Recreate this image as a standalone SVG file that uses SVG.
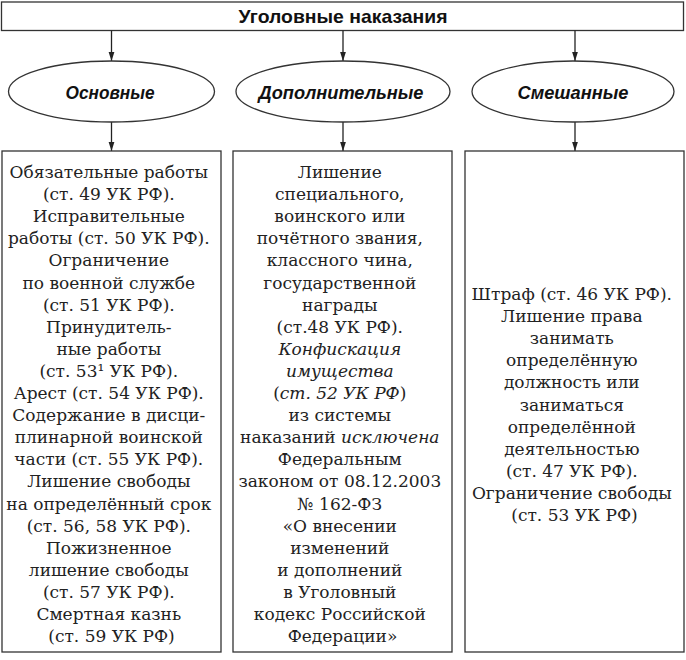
<svg xmlns="http://www.w3.org/2000/svg" width="686" height="660" viewBox="0 0 686 660">
<defs>
<marker id="arr" markerWidth="9" markerHeight="14" refX="14" refY="4.5" orient="auto" markerUnits="userSpaceOnUse" viewBox="0 0 14 9">
<path d="M0,0 L14,4.5 L0,9 Z" fill="#222"/>
</marker>
<style>
.box{fill:#fff;stroke:#333;stroke-width:1.3}
.line{stroke:#222;stroke-width:1.3;fill:none}
.title{font-family:"Liberation Sans","DejaVu Sans",sans-serif;font-weight:bold;font-size:19px;fill:#111;text-anchor:middle}
.cat{font-family:"Liberation Sans","DejaVu Sans",sans-serif;font-weight:bold;font-style:italic;font-size:19px;fill:#111;text-anchor:middle}
.body{font-family:"DejaVu Serif","Liberation Serif",serif;font-size:17px;fill:#222;text-anchor:middle}
.it{font-style:italic}
</style>
</defs>
<rect width="686" height="660" fill="#fff"/>
<g id="root">
<rect class="box" x="1.5" y="2" width="682" height="28.5"/>
<text class="title" x="343" y="23" textLength="209" lengthAdjust="spacingAndGlyphs">Уголовные наказания</text>
</g>
<g id="connectors">
<line class="line" x1="111.5" y1="30.5" x2="111.5" y2="61" marker-end="url(#arr)"/>
<line class="line" x1="343" y1="30.5" x2="343" y2="61" marker-end="url(#arr)"/>
<line class="line" x1="575" y1="30.5" x2="575" y2="61" marker-end="url(#arr)"/>
<line class="line" x1="111.5" y1="122" x2="111.5" y2="151" marker-end="url(#arr)"/>
<line class="line" x1="343" y1="122" x2="343" y2="151" marker-end="url(#arr)"/>
<line class="line" x1="575" y1="122" x2="575" y2="151" marker-end="url(#arr)"/>
</g>
<g id="cat-main">
<ellipse class="box" cx="111.5" cy="91.5" rx="103" ry="30.5"/>
<text class="cat" x="110" y="98.5" textLength="89" lengthAdjust="spacingAndGlyphs">Основные</text>
</g>
<g id="cat-add">
<ellipse class="box" cx="343" cy="91.5" rx="107" ry="30.5"/>
<text class="cat" x="341" y="98.5" textLength="165" lengthAdjust="spacingAndGlyphs">Дополнительные</text>
</g>
<g id="cat-mixed">
<ellipse class="box" cx="573" cy="91.5" rx="101" ry="30.5"/>
<text class="cat" x="573" y="98.5" textLength="111" lengthAdjust="spacingAndGlyphs">Смешанные</text>
</g>
<g id="list-main">
<rect class="box" x="2" y="151" width="219" height="501"/>
<text class="body">
<tspan x="111.5" y="178">Обязательные работы</tspan>
<tspan x="111.5" y="200.1">(ст. 49 УК РФ).</tspan>
<tspan x="111.5" y="222.2">Исправительные</tspan>
<tspan x="111.5" y="244.3">работы (ст. 50 УК РФ).</tspan>
<tspan x="111.5" y="266.4">Ограничение</tspan>
<tspan x="111.5" y="288.5">по военной службе</tspan>
<tspan x="111.5" y="310.6">(ст. 51 УК РФ).</tspan>
<tspan x="111.5" y="332.7">Принудитель-</tspan>
<tspan x="111.5" y="354.8">ные работы</tspan>
<tspan x="111.5" y="376.9">(ст. 53¹ УК РФ).</tspan>
<tspan x="111.5" y="399">Арест (ст. 54 УК РФ).</tspan>
<tspan x="111.5" y="421.1">Содержание в дисци-</tspan>
<tspan x="111.5" y="443.2">плинарной воинской</tspan>
<tspan x="111.5" y="465.3">части (ст. 55 УК РФ).</tspan>
<tspan x="111.5" y="487.4">Лишение свободы</tspan>
<tspan x="111.5" y="509.5">на определённый срок</tspan>
<tspan x="111.5" y="531.6">(ст. 56, 58 УК РФ).</tspan>
<tspan x="111.5" y="553.7">Пожизненное</tspan>
<tspan x="111.5" y="575.8">лишение свободы</tspan>
<tspan x="111.5" y="597.9">(ст. 57 УК РФ).</tspan>
<tspan x="111.5" y="620">Смертная казнь</tspan>
<tspan x="111.5" y="642.1">(ст. 59 УК РФ)</tspan>
</text>
</g>
<g id="list-add">
<rect class="box" x="233" y="151" width="219" height="501"/>
<text class="body">
<tspan x="342.5" y="178">Лишение</tspan>
<tspan x="342.5" y="200.1">специального,</tspan>
<tspan x="342.5" y="222.2">воинского или</tspan>
<tspan x="342.5" y="244.3">почётного звания,</tspan>
<tspan x="342.5" y="266.4">классного чина,</tspan>
<tspan x="342.5" y="288.5">государственной</tspan>
<tspan x="342.5" y="310.6">награды</tspan>
<tspan x="342.5" y="332.7">(ст.48 УК РФ).</tspan>
<tspan x="342.5" y="354.8" class="it">Конфискация</tspan>
<tspan x="342.5" y="376.9" class="it">имущества</tspan>
<tspan x="342.5" y="399">(<tspan class="it">ст. 52 УК РФ</tspan>)</tspan>
<tspan x="342.5" y="421.1">из системы</tspan>
<tspan x="342.5" y="443.2">наказаний <tspan class="it">исключена</tspan></tspan>
<tspan x="342.5" y="465.3">Федеральным</tspan>
<tspan x="342.5" y="487.4">законом от 08.12.2003</tspan>
<tspan x="342.5" y="509.5">№ 162-ФЗ</tspan>
<tspan x="342.5" y="531.6">«О внесении</tspan>
<tspan x="342.5" y="553.7">изменений</tspan>
<tspan x="342.5" y="575.8">и дополнений</tspan>
<tspan x="342.5" y="597.9">в Уголовный</tspan>
<tspan x="342.5" y="620">кодекс Российской</tspan>
<tspan x="342.5" y="642.1">Федерации»</tspan>
</text>
</g>
<g id="list-mixed">
<rect class="box" x="465" y="151" width="219" height="501"/>
<text class="body">
<tspan x="574.5" y="300">Штраф (ст. 46 УК РФ).</tspan>
<tspan x="574.5" y="322.1">Лишение права</tspan>
<tspan x="574.5" y="344.2">занимать</tspan>
<tspan x="574.5" y="366.3">определённую</tspan>
<tspan x="574.5" y="388.4">должность или</tspan>
<tspan x="574.5" y="410.5">заниматься</tspan>
<tspan x="574.5" y="432.6">определённой</tspan>
<tspan x="574.5" y="454.7">деятельностью</tspan>
<tspan x="574.5" y="476.8">(ст. 47 УК РФ).</tspan>
<tspan x="574.5" y="498.9">Ограничение свободы</tspan>
<tspan x="574.5" y="521">(ст. 53 УК РФ)</tspan>
</text>
</g>
</svg>
